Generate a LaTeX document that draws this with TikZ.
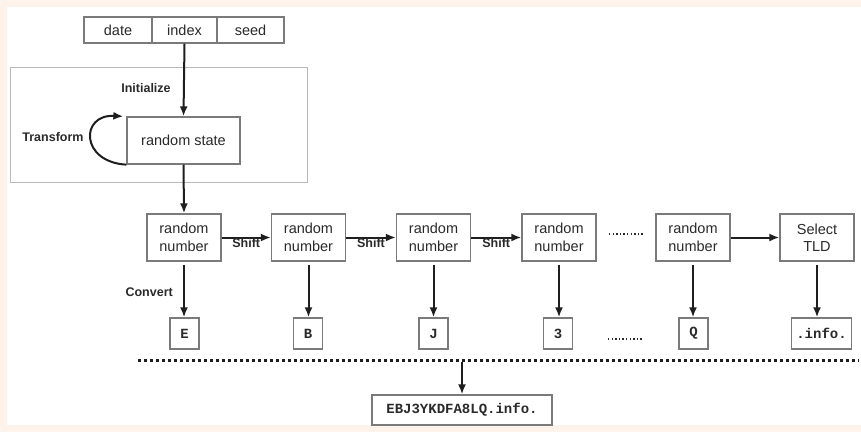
\documentclass[tikz,border=0pt]{standalone}
\usepackage{fontspec}
\setmainfont{Liberation Sans}
\setmonofont{Liberation Mono}
\usetikzlibrary{arrows.meta}
\definecolor{peach}{HTML}{FEF3EA}
\definecolor{boxgray}{HTML}{7A7A7A}
\definecolor{linec}{HTML}{1E1E1E}
\definecolor{txt}{HTML}{2A2A2A}
\tikzset{
  box/.style={draw=boxgray, line width=1.3pt, fill=white, inner sep=0pt, align=center,
    text=txt, font=\fontsize{14.5}{17.5}\selectfont},
  rnbox/.style={box, minimum width=74pt, minimum height=47pt},
  letbox/.style={box, minimum width=29pt, minimum height=31pt, font=\ttfamily\bfseries\fontsize{14}{16}\selectfont},
  arr/.style={-{Latex[length=10pt,width=8pt]}, line width=2pt, draw=linec},
  lbl/.style={font=\bfseries\fontsize{12.5}{14}\selectfont, text=txt, inner sep=1pt},
  dotsline/.style={draw=txt, line width=1.4pt, dash pattern=on 1.4pt off 2.2pt}
}
\begin{document}
\begin{tikzpicture}[x=1pt,y=-1pt]
\fill[peach] (0,0) rectangle (861,432);
\fill[white] (7,7) rectangle (861,425);
\useasboundingbox (0,0) rectangle (861,432);

% top fields
\node[box, minimum width=68pt, minimum height=26pt] (date) at (118,30) {date};
\node[box, minimum width=65pt, minimum height=26pt] (index) at (184.5,30) {index};
\node[box, minimum width=67pt, minimum height=26pt] (seed) at (250.5,30) {seed};

% initialize frame
\draw[draw=gray!55, line width=0.9pt] (10,67) rectangle (307,182);
\node[lbl] (init) at (146,88) {Initialize};
\node[rnbox, minimum width=113pt] (rs) at (183.5,140.5) {random state};
\node[lbl] (transform) at (53,137) {Transform};

\draw[arr] (index.south) -- (rs.north);
\draw[arr] (rs.south west) .. controls (80,162) and (80,114) .. ([xshift=-3pt]rs.north west);

% random numbers
\node[rnbox] (rn1) at (184,237.5) {random\\number};
\node[rnbox] (rn2) at (308.5,237.5) {random\\number};
\node[rnbox] (rn3) at (433.5,237.5) {random\\number};
\node[rnbox] (rn4) at (559,237.5) {random\\number};
\node[rnbox] (rn5) at (693,237.5) {random\\number};
\node[rnbox] (tld) at (817,237.5) {Select\\TLD};

\draw[arr] (rs.south) -- (rn1.north);
\draw[arr] (rn1.east) -- node[lbl, below, yshift=1pt] {Shift} (rn2.west);
\draw[arr] (rn2.east) -- node[lbl, below, yshift=1pt] {Shift} (rn3.west);
\draw[arr] (rn3.east) -- node[lbl, below, yshift=1pt] {Shift} (rn4.west);
\draw[arr] (rn5.east) -- (tld.west);
\coordinate (d1a) at (609,234);
\coordinate (d1b) at (643,234);
\draw[dotsline] (d1a) -- (d1b);

% letters
\node[letbox] (lE) at (184.5,333.5) {E};
\node[letbox] (lB) at (308,333.5) {B};
\node[letbox] (lJ) at (433.5,333.5) {J};
\node[letbox] (l3) at (558,333.5) {3};
\node[letbox] (lQ) at (693.5,333.5) {Q};
\node[letbox, minimum width=60pt] (linfo) at (821.5,333.5) {.info.};
\coordinate (d2a) at (608,339);
\coordinate (d2b) at (643,339);
\draw[dotsline] (d2a) -- (d2b);

\node[lbl, anchor=east] (convert) at (174,292) {Convert};

\draw[arr, shorten <=3pt] (rn1.south) -- (rn1.south |- lE.north);
\draw[arr, shorten <=3pt] (rn2.south) -- (rn2.south |- lB.north);
\draw[arr, shorten <=3pt] (rn3.south) -- (rn3.south |- lJ.north);
\draw[arr, shorten <=3pt] (rn4.south) -- (rn4.south |- l3.north);
\draw[arr, shorten <=3pt] (rn5.south) -- (rn5.south |- lQ.north);
\draw[arr, shorten <=3pt] (tld.south) -- (tld.south |- linfo.north);

% separator
\coordinate (sepL) at (138,360);
\coordinate (sepR) at (859,360);
\draw[draw=linec, line width=3pt, dash pattern=on 3pt off 3pt] (sepL) -- (sepR);
\node[letbox, minimum width=180pt, minimum height=30pt] (final) at (462,410) {EBJ3YKDFA8LQ.info.};
\coordinate (sepC) at (462,362);
\draw[arr] (sepC) -- (final.north);
\end{tikzpicture}
\end{document}
